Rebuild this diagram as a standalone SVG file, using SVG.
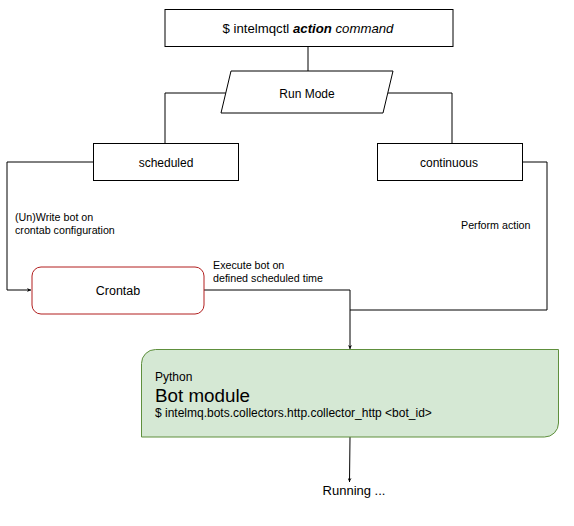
<svg xmlns="http://www.w3.org/2000/svg" width="574" height="526" viewBox="0 0 574 526">
<style>
text{font-family:"Liberation Sans",Arial,sans-serif;fill:#000}
.box{fill:#fff;stroke:#000;stroke-width:1}
.c{fill:none;stroke:#000;stroke-width:1}
.lbl{font-size:10.7px}
</style>
<defs>
<marker id="ah" viewBox="0 0 10 10" refX="10" refY="5" markerWidth="4" markerHeight="4" orient="auto" markerUnits="userSpaceOnUse">
<path d="M0,0 L10,5 L0,10 L3,5 Z" fill="#000"/>
</marker>
</defs>
<rect width="574" height="526" fill="#fff"/>
<g id="connectors">
<path class="c" d="M308,47 V71"/>
<path class="c" d="M226,93 H165 V143"/>
<path class="c" d="M388,93 H452 V143"/>
<path class="c" d="M93,162 H7 V290 H31" marker-end="url(#ah)"/>
<path class="c" d="M204,290 H350 V349" marker-end="url(#ah)"/>
<path class="c" d="M523,162 H547 V310 H350"/>
<path class="c" d="M350,437 L349.5,482" marker-end="url(#ah)"/>
</g>
<g id="cmd">
<rect class="box" x="165" y="9.5" width="288" height="37"/>
<text x="308" y="33" font-size="13.2" text-anchor="middle">$ intelmqctl <tspan font-weight="bold" font-style="italic">action</tspan> <tspan font-style="italic">command</tspan></text>
</g>
<g id="runmode">
<polygon class="box" points="231,71 393,71 383,113 221,113"/>
<text x="307" y="97.5" font-size="12" text-anchor="middle">Run Mode</text>
</g>
<g id="scheduled">
<rect class="box" x="93.5" y="143.5" width="145" height="37"/>
<text x="166" y="167" font-size="12" text-anchor="middle">scheduled</text>
</g>
<g id="continuous">
<rect class="box" x="377.5" y="143.5" width="145" height="37"/>
<text x="449" y="167" font-size="12" text-anchor="middle">continuous</text>
</g>
<g id="crontab">
<rect x="32" y="267" width="172" height="47" rx="9" ry="9" fill="#fff" stroke="#b21f1f" stroke-width="1"/>
<text x="118" y="295" font-size="12.5" text-anchor="middle">Crontab</text>
</g>
<g id="botmodule">
<path d="M157,349.5 H558.5 V423 A14,14 0 0 1 544.5,437 H141.5 V363.5 A14,14 0 0 1 155.5,349.5 Z" fill="#d5e8d4" stroke="#5e8f3c" stroke-width="1"/>
<text x="155" y="381" font-size="12">Python</text>
<text x="155" y="402" font-size="18.8">Bot module</text>
<text x="155" y="417" font-size="12">$ intelmq.bots.collectors.http.collector_http &lt;bot_id&gt;</text>
</g>
<g id="labels">
<text class="lbl" x="15" y="221">(Un)Write bot on</text>
<text class="lbl" x="15" y="234">crontab configuration</text>
<text class="lbl" x="213" y="269">Execute bot on</text>
<text class="lbl" x="213" y="282">defined scheduled time</text>
<text class="lbl" x="461" y="229">Perform action</text>
<text x="354" y="495" font-size="13" text-anchor="middle">Running ...</text>
</g>
</svg>
